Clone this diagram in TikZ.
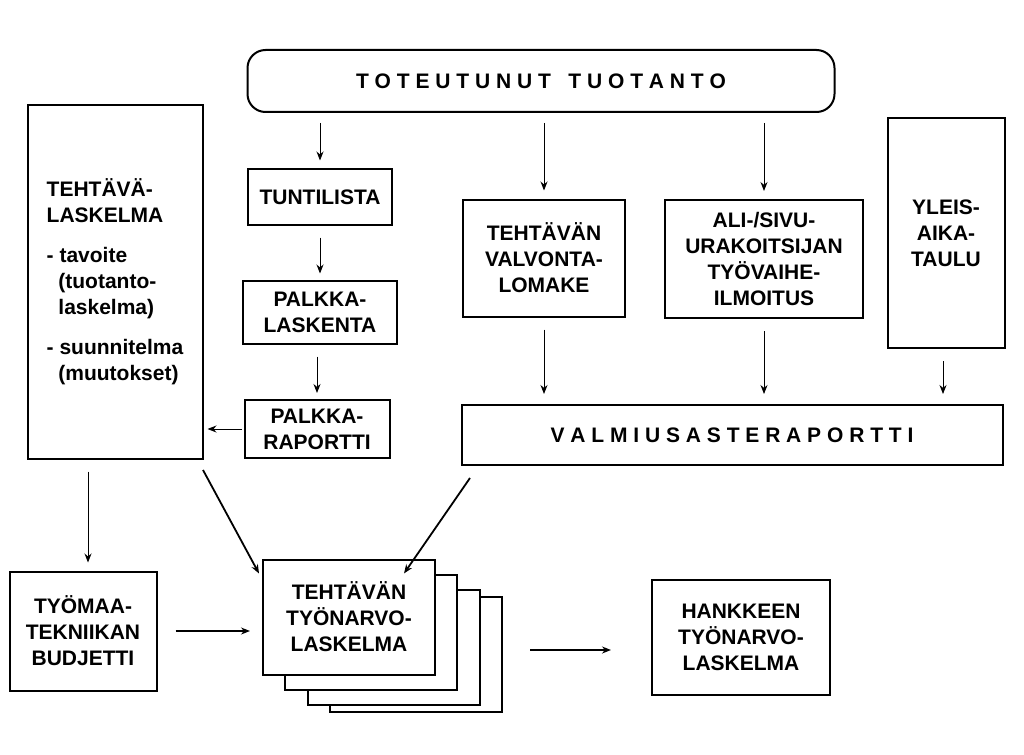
\documentclass[tikz,border=0pt]{standalone}
\usepackage{fontspec}
\setmainfont{Liberation Sans}
\usetikzlibrary{arrows.meta}
\begin{document}
\begin{tikzpicture}[x=1pt,y=-1pt]
\tikzstyle{box}=[draw, line width=2pt, fill=white, inner sep=2pt, align=center,
  font=\fontsize{21}{26}\selectfont\bfseries]
\tikzstyle{arr}=[-{Stealth[length=9pt,width=7pt]}, line width=0.9pt]
\useasboundingbox (0,0) rectangle (1024,754);

\node[box, rounded corners=18pt, minimum width=587pt, minimum height=62pt] (tot) at (541,81) {T O T E U T U N U T\ \ \ T U O T A N T O};
\node[box, minimum width=175pt, minimum height=353pt, align=left] (tla) at (115,282)
  {TEHTÄVÄ-\\ LASKELMA\\[14pt] - tavoite\\ \ \ (tuotanto-\\ \ \ laskelma)\\[14pt] - suunnitelma\\ \ \ (muutokset)};
\node[box, minimum width=144pt, minimum height=55pt] (tunti) at (320,197) {TUNTILISTA};
\node[box, minimum width=154pt, minimum height=63pt] (plask) at (320,312) {PALKKA-\\LASKENTA};
\node[box, minimum width=145pt, minimum height=58pt] (prap) at (317,429) {PALKKA-\\RAPORTTI};
\node[box, minimum width=162pt, minimum height=117pt] (valv) at (544,258) {TEHTÄVÄN\\VALVONTA-\\LOMAKE};
\node[box, minimum width=198pt, minimum height=118pt] (ali) at (764,259) {ALI-/SIVU-\\URAKOITSIJAN\\TYÖVAIHE-\\ILMOITUS};
\node[box, minimum width=117pt, minimum height=230pt] (yleis) at (946,233) {YLEIS-\\AIKA-\\TAULU};
\node[box, minimum width=541pt, minimum height=60pt] (valm) at (732,435) {V A L M I U S A S T E R A P O R T T I};
\node[box, minimum width=147pt, minimum height=119pt] (bud) at (83,631) {TYÖMAA-\\TEKNIIKAN\\BUDJETTI};
\foreach \i/\dx/\dy in {3/67/37, 2/45/30, 1/22/15}
  \node[box, minimum width=172pt, minimum height=115pt] (tnl\i) at (349+\dx,617+\dy) {};
\node[box, minimum width=172pt, minimum height=115pt] (tnl) at (349,617) {TEHTÄVÄN\\TYÖNARVO-\\LASKELMA};
\node[box, minimum width=178pt, minimum height=115pt] (hank) at (741,637) {HANKKEEN\\TYÖNARVO-\\LASKELMA};

\coordinate (d1) at (203,470);
\coordinate (d2) at (470,478);

\draw[arr, shorten <=10pt, shorten >=8pt] (tot.south -| tunti.north) -- (tunti.north);
\draw[arr, shorten <=10pt, shorten >=8pt] (tot.south -| valv.north) -- (valv.north);
\draw[arr, shorten <=10pt, shorten >=8pt] (tot.south -| ali.north) -- (ali.north);
\draw[arr, shorten <=12pt, shorten >=6pt] (tunti.south) -- (tunti.south |- plask.north);
\draw[arr, shorten <=12pt, shorten >=6pt] (plask.south -| prap.north) -- (prap.north);
\draw[arr, shorten <=2pt, shorten >=4pt] (prap.west) -- (prap.west -| tla.east);
\draw[arr, shorten <=12pt, shorten >=8pt] (tla.south -| bud.north) ++(5,0) -- ([xshift=5pt]bud.north);
\draw[arr, shorten <=12pt, shorten >=10pt] (valv.south) -- (valv.south |- valm.north);
\draw[arr, shorten <=12pt, shorten >=10pt] (ali.south) -- (ali.south |- valm.north);
\draw[arr, shorten <=12pt, shorten >=10pt] ([xshift=-3pt]yleis.south) -- ([xshift=-3pt]yleis.south |- valm.north);
\draw[arr, line width=1.8pt] (d1) -- ([xshift=-90pt,yshift=-15pt]tnl.north);
\draw[arr, line width=1.8pt] (d2) -- ([xshift=55pt,yshift=-15pt]tnl.north);
\draw[arr, line width=1.4pt, shorten <=18pt, shorten >=12pt] (bud.east) -- (bud.east -| tnl.west);
\draw[arr, line width=1.4pt] (530,650) -- (hank.west |- 0,650) [shorten >=40pt];
\end{tikzpicture}
\end{document}
